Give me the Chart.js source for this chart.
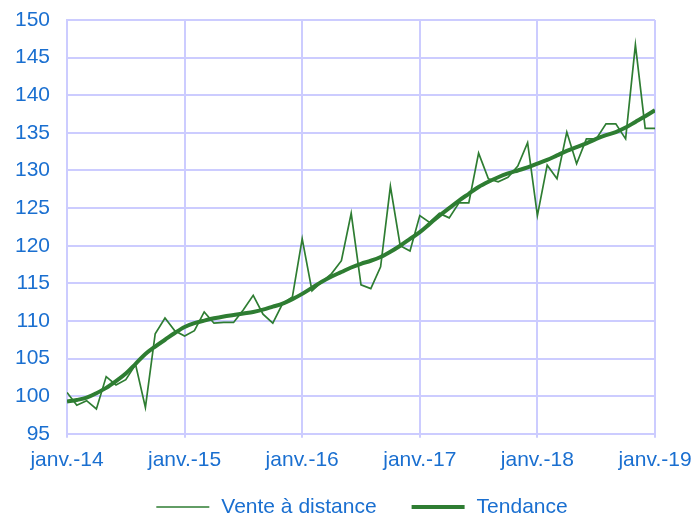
<!DOCTYPE html>
<html><head><meta charset="utf-8">
<script src="https://cdn.jsdelivr.net/npm/chart.js@4/dist/chart.umd.min.js"></script>
<style>html,body{margin:0;padding:0;background:#fff}#wrap{width:696px;height:515px}</style>
</head><body><div id="wrap"><canvas id="c" width="696" height="515"></canvas></div>
<script>
const yearLabels = ['janv.-14','janv.-15','janv.-16','janv.-17','janv.-18','janv.-19'];
const yTicks = [95,100,105,110,115,120,125,130,135,140,145,150];
const venteADistance = [100.5,98.8,99.4,98.3,102.6,101.5,102.2,104.2,98.5,108.3,110.4,108.7,
  108.0,108.7,111.2,109.7,109.8,109.8,111.5,113.4,110.9,109.7,112.3,113.2,
  120.9,114.0,115.2,116.3,118.0,124.3,114.8,114.3,117.2,127.9,120.0,119.3,
  124.0,123.1,124.3,123.7,125.7,125.7,132.3,128.9,128.5,129.1,130.6,133.7,
  124.0,130.7,128.9,135.1,130.9,134.2,134.2,136.2,136.2,134.2,146.7,135.6,135.6];
const tendance = [99.3,99.5,99.8,100.4,101.1,102.0,103.0,104.3,105.6,106.6,107.5,108.4,
  109.2,109.7,110.05,110.35,110.6,110.8,111.0,111.2,111.5,111.9,112.3,112.9,
  113.6,114.4,115.2,115.9,116.5,117.1,117.6,118.0,118.5,119.2,120.0,120.9,
  121.8,122.9,124.0,125.0,126.0,126.9,127.8,128.5,129.1,129.6,130.0,130.4,
  130.9,131.4,132.0,132.6,133.1,133.6,134.2,134.7,135.1,135.7,136.45,137.2,138.0];

const blue = '#1A6FD0', green = '#2E7D32', grid = '#CCCCFF';
const fontFamily = 'Liberation Sans, Arial, sans-serif';
const font = {family: fontFamily, size: 21};
const pts = arr => arr.map((v,i)=>({x:i,y:v}));

// legend drawn below the chart, centred under the plot area
const bottomLegend = {
  id: 'bottomLegend',
  afterDraw(chart){
    const ctx = chart.ctx, ds = chart.data.datasets;
    const lineW = 53, gapText = 12, gapItem = 35, y = 507;
    ctx.save();
    ctx.font = font.size + 'px ' + fontFamily;
    const widths = ds.map(d => ctx.measureText(d.label).width);
    const total = widths.reduce((a,w)=>a+lineW+gapText+w,0) + gapItem*(ds.length-1);
    const centre = (chart.chartArea.left + chart.chartArea.right)/2 + 1;
    let x = centre - total/2;
    ds.forEach((d,i)=>{
      ctx.strokeStyle = d.borderColor; ctx.lineWidth = d.borderWidth; ctx.lineCap = 'butt';
      ctx.beginPath(); ctx.moveTo(x, y); ctx.lineTo(x+lineW, y); ctx.stroke();
      x += lineW + gapText;
      ctx.fillStyle = blue; ctx.textBaseline = 'middle'; ctx.textAlign = 'left';
      ctx.fillText(d.label, x, y);
      x += widths[i] + gapItem;
    });
    ctx.restore();
  }
};

new Chart(document.getElementById('c'), {
  type: 'line',
  data: {
    datasets: [
      {label: 'Vente à distance', data: pts(venteADistance), borderColor: green, backgroundColor: green,
       borderWidth: 1.7, pointRadius: 0, tension: 0, fill: false},
      {label: 'Tendance', data: pts(tendance), borderColor: green, backgroundColor: green,
       borderWidth: 4, pointRadius: 0, fill: false, cubicInterpolationMode: 'monotone'}
    ]
  },
  options: {
    responsive: false, animation: false, devicePixelRatio: 1,
    layout: {padding: {left: 0, right: 41, top: 20, bottom: 32}},
    plugins: {tooltip: {enabled: false}, legend: {display: false}},
    scales: {
      x: {
        type: 'linear', min: 0, max: 60,
        afterBuildTicks(s){ s.ticks = yearLabels.map((_,i)=>({value: i*12})); },
        afterFit(s){ s.paddingLeft = 0; s.paddingRight = 0; },
        ticks: {color: blue, font: font, padding: 10, maxRotation: 0, autoSkip: false,
                callback: (v)=> yearLabels[Math.round(v/12)]},
        grid: {color: grid, lineWidth: 2, tickLength: 4, drawTicks: true},
        border: {color: grid, width: 2}
      },
      y: {
        min: 95, max: 150,
        afterBuildTicks(s){ s.ticks = yTicks.map(v=>({value: v})); },
        afterFit(s){ s.width = 67; s.paddingTop = 0; s.paddingBottom = 0; },
        ticks: {color: blue, font: font, padding: 17},
        grid: {color: grid, lineWidth: 2, tickLength: 0, drawTicks: false},
        border: {color: grid, width: 2}
      }
    }
  },
  plugins: [bottomLegend]
});
</script></body></html>
